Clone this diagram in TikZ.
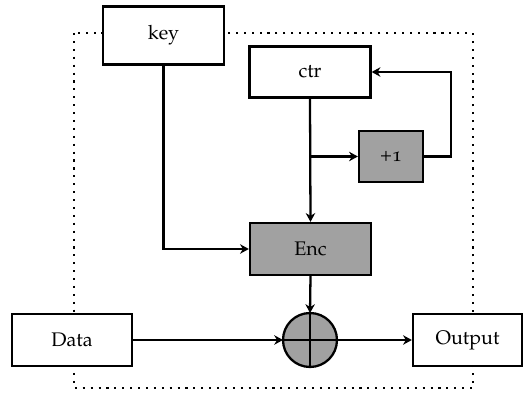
\documentclass[tikz,border=0pt]{standalone}
\usepackage[T1]{fontenc}
\usepackage[osf]{mathpazo}
\usetikzlibrary{arrows.meta}
\begin{document}
\begin{tikzpicture}[x=0.02cm,y=-0.02cm,
  blk/.style={draw, fill=white, line width=1.3pt, minimum width=2.42cm, minimum height=1.04cm, inner sep=0pt, font=\fontsize{11.2}{13}\selectfont},
  gblk/.style={blk, fill=black!37},
  arr/.style={line width=1.3pt, -{Stealth[length=5pt,width=5.4pt,inset=1.6pt]}}]
\useasboundingbox (0,0) rectangle (524,394);
\draw[line width=1.2pt, dash pattern=on 1.2pt off 3.3pt] (74,33) rectangle (473,388);
\node[blk, minimum height=1.16cm] (key) at (163.5,35.5) {key};
\node[blk, minimum height=1.02cm] (ctr) at (310,72) {ctr};
\node[gblk, minimum width=1.28cm, minimum height=1.02cm] (plus) at (391,156.5) {+1};
\node[gblk] (enc) at (310.5,249) {Enc};
\node[blk, minimum width=2.4cm] (data) at (72,340) {Data};
\node[blk, minimum width=2.18cm] (out) at (467.5,340) {Output};
\node[draw, circle, fill=black!37, line width=1.3pt, minimum size=1.08cm, inner sep=0pt, outer sep=0pt] (xor) at (310,340) {};
\draw[line width=1.3pt] (xor.north) -- (xor.south) (xor.west) -- (xor.east);
\coordinate (br) at (ctr.south |- plus.west);
\coordinate (fb) at (451,72);
\draw[arr] (key.south) |- (enc.west);
\draw[arr] (ctr.south) -- (enc.north);
\draw[arr] (br) -- (plus.west);
\draw[arr] (plus.east) -| (fb) -- (ctr.east);
\draw[arr] (enc.south) -- (xor.north);
\draw[arr] (data.east) -- (xor.west);
\draw[arr] (xor.east) -- (out.west);
\end{tikzpicture}
\end{document}
